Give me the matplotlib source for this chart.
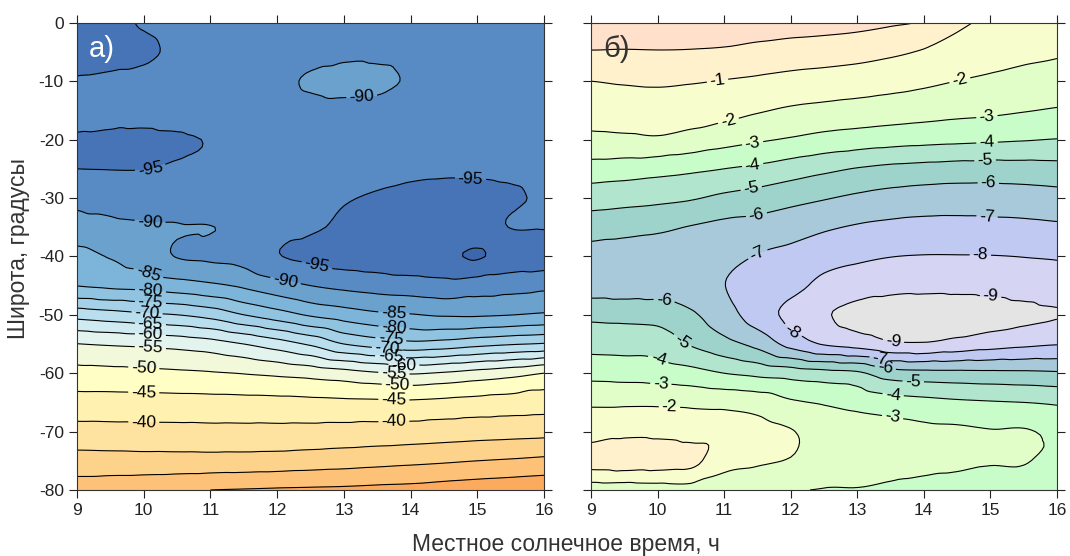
import numpy as np
import matplotlib
matplotlib.use("Agg")
import matplotlib.pyplot as plt
from matplotlib.colors import ListedColormap, BoundaryNorm
from matplotlib.tri import Triangulation, UniformTriRefiner, CubicTriInterpolator

# grid: local solar time (h) x latitude (deg)
hours = [9, 9.5, 10, 10.5, 11, 11.5, 12, 12.5, 13, 13.5, 14, 14.5, 15, 15.5, 16]
lats = [0, -5, -10, -15, -20, -25, -30, -35, -40, -45, -50, -55, -60, -65, -70, -75, -80]

# panel a) values, one row per latitude
z_a = [
    [-97, -96.5, -94.5, -93, -93, -93, -92.5, -92, -92, -92, -92.5, -93, -93, -93, -93],
    [-97.5, -97, -96, -94, -93, -92.5, -92, -91.5, -91, -91, -91.5, -92.5, -93, -93, -93],
    [-94.5, -94, -93.5, -93, -92.5, -92, -91, -89.5, -88.5, -89, -90.5, -92, -92.5, -93, -93],
    [-93, -93.2, -93.5, -93, -92.5, -92, -92, -91.5, -91.5, -91.5, -92, -92.5, -93, -93, -93],
    [-95.5, -95.8, -95.8, -95.5, -94.8, -94, -93.5, -93, -93, -93, -93, -93, -93.5, -93.5, -93.5],
    [-95, -95.1, -95.1, -94.5, -94, -93.5, -93.5, -93.5, -93.5, -94, -94.3, -94.5, -94.5, -94.3, -94],
    [-91, -91.5, -92, -92.5, -93, -93.5, -94, -94.5, -94.8, -95.3, -95.8, -96, -96, -95.5, -94.5],
    [-88.5, -89, -89.5, -89.7, -89.9, -91, -93, -94.5, -95.5, -96, -96.5, -97, -96.5, -94.9, -94.8],
    [-83.2, -85.3, -87, -90.2, -90.8, -91.5, -94.7, -96, -97, -97.5, -98.5, -99, -100.4, -98, -97.5],
    [-80.1, -81, -81.7, -82.8, -84.1, -85.8, -88.1, -90, -91.2, -92, -92.5, -93.1, -92.3, -91.7, -91.1],
    [-66.9, -68, -69.1, -70, -71.8, -75, -77.75, -80.6, -82.4, -84, -84.7, -85.5, -85.6, -85.1, -84.3],
    [-54.9, -55.5, -56, -56.75, -57.9, -60, -62.6, -65.7, -70, -72.1, -73.6, -72.9, -71.5, -70.4, -69.6],
    [-48.4, -48.6, -48.9, -49.2, -49.6, -50.2, -51, -51.9, -53.1, -54.5, -55.4, -54.5, -53.2, -51.9, -50],
    [-43.1, -43.1, -43.2, -43.3, -43.4, -43.5, -43.6, -43.8, -44, -44.1, -44.25, -43.8, -43.3, -42.9, -42.5],
    [-38.3, -38.4, -38.5, -38.5, -38.6, -38.6, -38.6, -38.5, -38.3, -38.1, -37.9, -37.5, -37.1, -36.8, -36.5],
    [-33, -33.1, -33.2, -33.2, -33.2, -33.1, -32.9, -32.5, -32.1, -31.6, -31.1, -30.6, -30, -29.5, -28.9],
    [-27.3, -26.8, -26.3, -25.7, -25, -24.7, -24.4, -24.2, -24, -23.6, -23.3, -22.6, -22, -21.5, -21],
]

# panel б) values
z_b = [
    [0.5, 0.6, 0.6, 0.6, 0.55, 0.5, 0.45, 0.4, 0.3, 0.12, -0.1, -0.8, -1.2, -1.45, -1.6],
    [-0.05, -0.07, -0.05, -0.07, -0.13, -0.28, -0.42, -0.52, -0.64, -0.83, -1.09, -1.38, -1.65, -1.8, -1.9],
    [-1.0, -0.91, -0.86, -0.93, -1.04, -1.16, -1.31, -1.41, -1.52, -1.66, -1.82, -2.01, -2.15, -2.29, -2.43],
    [-1.56, -1.51, -1.48, -1.54, -1.66, -1.91, -2.13, -2.26, -2.37, -2.48, -2.6, -2.73, -2.82, -2.95, -3.08],
    [-2.24, -2.19, -2.13, -2.35, -2.64, -2.88, -3.09, -3.32, -3.47, -3.61, -3.71, -3.79, -3.86, -3.94, -4.03],
    [-3.4, -3.51, -3.65, -3.81, -4.0, -4.2, -4.49, -4.78, -5.05, -5.23, -5.33, -5.41, -5.44, -5.41, -5.35],
    [-4.57, -4.66, -4.76, -4.91, -5.2, -5.41, -5.68, -5.93, -6.17, -6.35, -6.46, -6.5, -6.49, -6.44, -6.35],
    [-5.51, -5.64, -5.79, -6.05, -6.25, -6.36, -6.61, -6.87, -7.09, -7.22, -7.29, -7.3, -7.27, -7.23, -7.15],
    [-6.4, -6.5, -6.6, -6.6, -6.7, -7.05, -7.25, -7.59, -7.82, -7.98, -8.04, -8.04, -8.03, -7.98, -7.92],
    [-6.45, -6.5, -6.5, -6.6, -6.98, -7.55, -7.65, -8.3, -8.54, -8.71, -8.75, -8.74, -8.69, -8.55, -8.4],
    [-5.24, -5.29, -5.36, -5.85, -6.6, -7.45, -8.3, -8.9, -9.25, -9.45, -9.5, -9.45, -9.35, -9.2, -9.05],
    [-4.35, -4.39, -4.45, -5.08, -5.67, -6.29, -7.33, -8.08, -8.38, -8.83, -8.9, -8.65, -8.4, -8.2, -8.05],
    [-3.32, -3.38, -3.47, -3.66, -4.0, -4.25, -4.45, -4.66, -4.83, -5.56, -5.7, -5.74, -5.78, -5.81, -5.88],
    [-2.14, -2.15, -2.16, -2.21, -2.29, -2.45, -2.87, -3.1, -3.35, -3.58, -3.72, -3.85, -3.93, -4.0, -4.13],
    [-1.44, -1.23, -1.25, -1.39, -1.45, -1.7, -1.95, -2.4, -2.5, -2.65, -2.8, -2.85, -2.95, -2.93, -3.2],
    [-0.6, -0.5, -0.55, -0.7, -1.7, -1.9, -2.05, -2.3, -2.5, -2.6, -2.75, -2.85, -2.95, -2.95, -3.25],
    [-2.6, -2.6, -2.5, -2.4, -2.5, -2.6, -2.9, -3.05, -3.05, -3.2, -3.3, -3.35, -3.4, -3.45, -3.5],
]

fill_a = list(range(-105, -15, 5))
lines_a = list(range(-100, -20, 5))
colors_a = ["#3d67ad", "#4674b6", "#588bc3", "#6aa1cd", "#7db4d9", "#90c3e0",
            "#a4d1e7", "#b9deed", "#cfeaf1", "#e3f3ee", "#f2f8da", "#fffec4",
            "#fff2b0", "#fee3a0", "#fdd38c", "#fdc177", "#fcab5e"]

fill_b = list(range(-10, 2))
lines_b = list(range(-9, 1))
colors_b = ["#e4e4e4", "#d5d5f3", "#bfc9f1", "#a8c9d9", "#9ed3cb", "#b1e5cd",
            "#c8fcc9", "#e1fdc8", "#f7fdcc", "#fff1cc", "#fee0cb"]

# where the contour labels sit: (level, hour, latitude)
labels_a = [(-90, 13.27, -12.4), (-95, 10.1, -25.0), (-95, 14.9, -27.0),
            (-90, 10.1, -33.2), (-95, 12.6, -41.3), (-85, 10.06, -43.1),
            (-90, 12.12, -44.4), (-80, 10.1, -46.0), (-75, 10.1, -48.0),
            (-70, 10.05, -49.8), (-65, 10.1, -51.5), (-60, 10.1, -53.5),
            (-55, 10.1, -55.5), (-50, 10.0, -59.2), (-45, 10.0, -63.2),
            (-40, 10.0, -68.4), (-85, 13.75, -49.7), (-80, 13.75, -52.6),
            (-75, 13.7, -54.5), (-70, 13.65, -55.9), (-65, 13.7, -57.3),
            (-60, 13.9, -58.4), (-55, 13.75, -60.0), (-50, 13.8, -62.0),
            (-45, 13.75, -64.3), (-40, 13.75, -68.4)]
labels_b = [(-1, 10.9, -9.8), (-2, 14.54, -9.8), (-2, 11.08, -17.5),
            (-3, 11.43, -20.7), (-3, 14.95, -16.3), (-4, 11.43, -24.4),
            (-4, 14.95, -20.6), (-5, 11.41, -28.5), (-5, 14.92, -23.5),
            (-6, 11.48, -32.5), (-6, 14.97, -26.9), (-7, 11.5, -39.5),
            (-7, 14.95, -33.2), (-8, 14.85, -39.7), (-9, 15.0, -47.3),
            (-6, 10.1, -47.5), (-5, 10.35, -54.9), (-8, 12.04, -52.6),
            (-9, 13.54, -54.8), (-7, 13.34, -57.6), (-6, 13.42, -59.2),
            (-5, 13.84, -61.8), (-4, 10.0, -58.0), (-4, 13.54, -63.6),
            (-3, 10.05, -61.8), (-3, 13.54, -66.9), (-2, 10.18, -65.6)]

plt.rcParams["font.family"] = ["Liberation Sans", "DejaVu Sans"]
plt.rcParams["axes.unicode_minus"] = False
plt.rcParams["contour.negative_linestyle"] = "solid"

fig = plt.figure(figsize=(10.7, 5.56), dpi=100)
ax1 = fig.add_axes([0.072, 0.1187, 0.4364, 0.8403])
ax2 = fig.add_axes([0.5523, 0.1187, 0.4355, 0.8403])

# regular grid split into triangles (lat scaled so cells are square)
X, Y = np.meshgrid(hours, lats)
nr, nc = X.shape
tris = []
for i in range(nr - 1):
    for j in range(nc - 1):
        a = i * nc + j
        tris.append([a, a + 1, a + nc])
        tris.append([a + 1, a + nc + 1, a + nc])
grid = Triangulation(X.ravel(), Y.ravel() / 10.0, tris)
refiner = UniformTriRefiner(grid)


def draw_panel(ax, z, fill, lines, colors, labels):
    z = np.array(z, dtype=float).ravel()
    interp = CubicTriInterpolator(grid, z, kind="geom")
    tri_f, z_f = refiner.refine_field(z, triinterpolator=interp, subdiv=3)
    tri_p = Triangulation(tri_f.x, tri_f.y * 10.0, tri_f.triangles)

    cmap = ListedColormap(colors)
    norm = BoundaryNorm(fill, cmap.N)
    ax.tricontourf(tri_p, z_f, levels=fill, cmap=cmap, norm=norm)
    # one contour set per level so each label lands on its own line
    for lev in lines:
        if z_f.min() >= lev or z_f.max() <= lev:
            continue
        cs = ax.tricontour(tri_p, z_f, levels=[lev], colors="black",
                           linewidths=0.8)
        pos = [(x, y) for l, x, y in labels if l == lev]
        if pos:
            ax.clabel(cs, manual=pos, fmt="%d", fontsize=12.5,
                      inline=True, inline_spacing=3)
    ax.set_xlim(9, 16)
    ax.set_ylim(-80, 0)
    ax.set_xticks(range(9, 17))
    ax.set_yticks(range(-80, 1, 10))
    ax.tick_params(direction="out", length=6, width=0.8, top=True, right=True,
                   labelsize=12.5, colors="#222222")
    for s in ax.spines.values():
        s.set_color("#333333")
        s.set_linewidth(0.8)


draw_panel(ax1, z_a, fill_a, lines_a, colors_a, labels_a)
draw_panel(ax2, z_b, fill_b, lines_b, colors_b, labels_b)
ax2.tick_params(labelleft=False)

ax1.text(9.18, -5.8, "а)", color="white", fontsize=21)
ax2.text(9.18, -5.8, "б)", color="#333333", fontsize=21)

fig.text(0.017, 0.5527, "Широта, градусы", rotation=90, ha="center",
         va="center", fontsize=16.5, color="#333333")
fig.text(0.529, 0.02, "Местное солнечное время, ч", ha="center", va="center",
         fontsize=16.5, color="#333333")

fig.savefig("out.png", dpi=100)
